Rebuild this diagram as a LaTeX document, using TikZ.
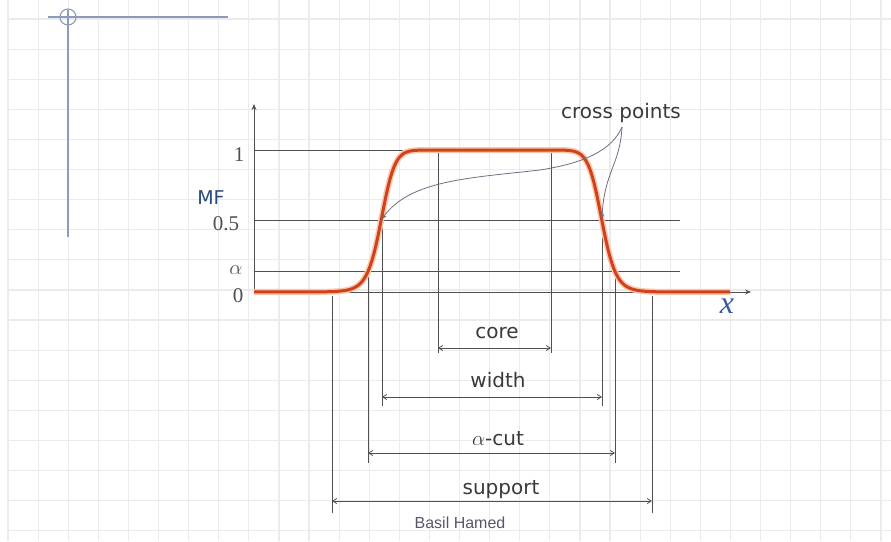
\documentclass[tikz,border=0pt]{standalone}
\usepackage{fontspec}
\setmainfont{Liberation Serif}
\newfontfamily\labelfont{DejaVu Sans}
\newfontfamily\namefont{Liberation Sans}
\usetikzlibrary{arrows.meta}
\definecolor{gridgray}{HTML}{EBEBEB}
\definecolor{axisgray}{HTML}{505050}
\definecolor{leadgray}{HTML}{6E6E84}
\definecolor{mfred}{HTML}{D2401E}
\definecolor{mfglow}{HTML}{F6C9AA}
\definecolor{labeltext}{HTML}{3A3A3A}
\definecolor{mfblue}{HTML}{2A4A7A}
\definecolor{xblue}{HTML}{3A5AA0}
\definecolor{decoblue}{HTML}{8C9CB8}

\begin{document}
\begin{tikzpicture}[
    x=1pt, y=-1pt,
    grid line/.style={draw=gridgray, line width=1.2pt},
    deco line/.style={draw=decoblue, line width=1.1pt},
    ref line/.style={draw=axisgray, line width=0.8pt},
    axis line/.style={draw=axisgray, line width=0.9pt, -{Stealth[length=6pt,width=5pt]}},
    dim line/.style={
        draw=axisgray, line width=0.8pt,
        {Straight Barb[length=4pt,width=5pt]}-{Straight Barb[length=4pt,width=5pt]}
    },
    leader/.style={draw=leadgray, line width=0.8pt, -{Stealth[length=5pt,width=4pt]}},
    tick label/.style={font=\fontsize{21}{22}\selectfont, text=axisgray, inner sep=0pt},
    dim label/.style={font=\labelfont\fontsize{20}{22}\selectfont, text=labeltext, inner sep=0pt, anchor=base}
  ]

  \useasboundingbox[fill=white] (0,0) rectangle (891,541);

  % background grid
  \foreach \gx in {0,...,29}
    \draw[grid line] ({8+30.1*\gx},0) -- ({8+30.1*\gx},541);
  \foreach \gy in {0,...,17}
    \draw[grid line] (8,{19+30.1*\gy}) -- (891,{19+30.1*\gy});

  \draw[deco line] (48,17) -- (228,17);
  \draw[deco line] (68,10) -- (68,237);
  \draw[deco line] (68,17) circle (8);

  \coordinate (origin) at (254,292);
  \coordinate (y_tip) at (254,104);
  \coordinate (x_tip) at (751,292);

  \coordinate (one_a) at (254,150);
  \coordinate (one_b) at (560,150);
  \coordinate (half_a) at (254,220);
  \coordinate (half_b) at (680,220);
  \coordinate (alpha_a) at (254,271);
  \coordinate (alpha_b) at (680,271);

  \coordinate (cross_l) at (382,219);
  \coordinate (cross_r) at (602,219);

  \draw[ref line] (one_a) -- (one_b);
  \draw[ref line] (half_a) -- (half_b);
  \draw[ref line] (alpha_a) -- (alpha_b);

  % core
  \coordinate (core_top_l) at (438,150);
  \coordinate (core_top_r) at (551,150);
  \coordinate (core_l) at (438,348);
  \coordinate (core_r) at (551,348);
  \draw[ref line] (core_top_l) -- ++(0,203);
  \draw[ref line] (core_top_r) -- ++(0,203);
  \draw[dim line] (core_l) -- (core_r);
  \node[dim label] (core_lbl) at (497,338) {core};

  % width
  \coordinate (width_l) at (382,397);
  \coordinate (width_r) at (602,397);
  \draw[ref line] (cross_l) -- ++(0,187);
  \draw[ref line] (cross_r) -- ++(0,187);
  \draw[dim line] (width_l) -- (width_r);
  \node[dim label] (width_lbl) at (498,387) {width};

  % alpha-cut
  \coordinate (acut_top_l) at (368,275);
  \coordinate (acut_top_r) at (615,275);
  \coordinate (acut_l) at (368,453);
  \coordinate (acut_r) at (615,453);
  \draw[ref line] (acut_top_l) -- ++(0,188);
  \draw[ref line] (acut_top_r) -- ++(0,188);
  \draw[dim line] (acut_l) -- (acut_r);
  \node[dim label] (acut_lbl) at (498,445) {$\alpha$-cut};

  % support
  \coordinate (supp_top_l) at (332,296);
  \coordinate (supp_top_r) at (652,296);
  \coordinate (supp_l) at (332,501);
  \coordinate (supp_r) at (652,501);
  \draw[ref line] (supp_top_l) -- ++(0,217);
  \draw[ref line] (supp_top_r) -- ++(0,217);
  \draw[dim line] (supp_l) -- (supp_r);
  \node[dim label] (supp_lbl) at (501,494) {support};

  \node[font=\namefont\fontsize{16}{18}\selectfont, text=leadgray!80!black, anchor=base] (author) at (460,528) {Basil Hamed};

  % axes
  \draw[axis line] (origin) -- (y_tip);
  \draw[axis line] (origin) -- (x_tip);

  % membership function
  \draw[mfglow, line width=6pt, line join=round]
    plot[domain=254:730, samples=239] (\x,{292-142/(1+min(abs((\x-491.5)/110.5),1.75)^16)});
  \draw[mfred, line width=3pt, line join=round]
    plot[domain=254:730, samples=239] (\x,{292-142/(1+min(abs((\x-491.5)/110.5),1.75)^16)});

  \node[tick label] (lbl_one) at (239,155) {1};
  \node[tick label] (lbl_half) at (226,224) {0.5};
  \node[tick label] (lbl_alpha) at (236,270) {$\alpha$};
  \node[tick label] (lbl_zero) at (238,296) {0};
  \node[font=\labelfont\fontsize{19}{20}\selectfont, text=mfblue, inner sep=0pt] (mf_lbl) at (211,198) {MF};
  \node[font=\itshape\fontsize{32}{34}\selectfont, text=xblue, inner sep=0pt] (x_lbl) at (727,306) {x};

  % cross points
  \node[dim label] (cp) at (621,118) {cross points};
  \coordinate (cp_foot) at (622,127);
  \draw[leader] (cp_foot) .. controls (612,150) and (585,163) .. (540,170)
    .. controls (470,178) and (410,180) .. (cross_l);
  \draw[leader] (cp_foot) .. controls (620,165) and (604,172) .. (cross_r);

\end{tikzpicture}
\end{document}
